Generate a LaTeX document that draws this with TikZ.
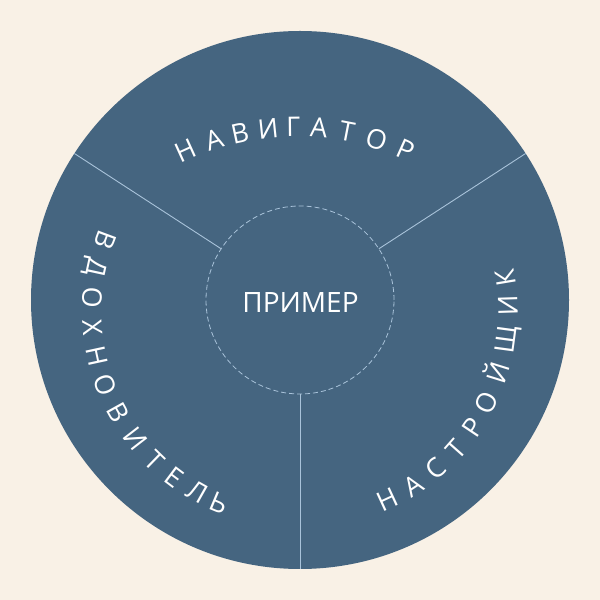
\documentclass[tikz,border=0pt]{standalone}
\usepackage{fontspec}
\setmainfont{Open Sans}
\definecolor{bg}{HTML}{F9F1E6}
\definecolor{disc}{HTML}{456580}
\definecolor{rule}{HTML}{A9C3DA}
\begin{document}
\begin{tikzpicture}[x=1pt,y=1pt,
  letter/.style={inner sep=0pt, outer sep=0pt, text=white,
    font=\fontsize{27}{27}\selectfont, text height=19.3pt, text depth=0pt},
  divider/.style={draw=rule, line width=0.9pt},
  hub/.style={circle, draw=rule, line width=0.8pt, dash pattern=on 5pt off 3pt,
    minimum size=188pt, inner sep=0pt, outer sep=0pt}]
\fill[bg] (0,0) rectangle (600,600);
\useasboundingbox (0,0) rectangle (600,600);
\node[circle, fill=disc, minimum size=538pt, inner sep=0pt, outer sep=0pt] (outer) at (300,300) {};
\node[hub] (inner) at (300,300) {};
\draw[divider] (inner.147) -- (outer.147);
\draw[divider] (inner.33) -- (outer.33);
\draw[divider] (inner.270) -- (outer.270);
\node[inner sep=0pt, text=white, font=\fontsize{28}{28}\selectfont,
  text height=20pt, text depth=0pt] (label) at (300.5,297) {ПРИМЕР};
% top word
\coordinate (topc) at (296,205);
\foreach \ch/\a [count=\i] in {Н/114.4,А/107.8,В/102.1,И/96.0,Г/90.6,А/85.1,Т/79.0,О/72.5,Р/65.9}
  \path (topc) ++(\a:268) node[letter, rotate=\a-90] (top\i) {\ch};
% left word
\coordinate (leftc) at (299,288);
\foreach \ch/\a [count=\i] in {В/159.6,Д/167.7,О/176.1,Х/184.2,Н/192.2,О/200.6,В/209.1,И/217.8,Т/225.8,Е/233.1,Л/240.5,Ь/247.2}
  \path (leftc) ++(\a:207) node[letter, rotate=\a+90] (left\i) {\ch};
% right word
\coordinate (rightc) at (301,288);
\foreach \ch/\a [count=\i] in {Н/-65.2,А/-57.1,С/-49.3,Т/-41.5,Р/-33.8,О/-26.1,Й/-17.2,Щ/-7.7,И/1.9,К/9.5}
  \path (rightc) ++(\a:207) node[letter, rotate=\a+90] (right\i) {\ch};
\end{tikzpicture}
\end{document}
